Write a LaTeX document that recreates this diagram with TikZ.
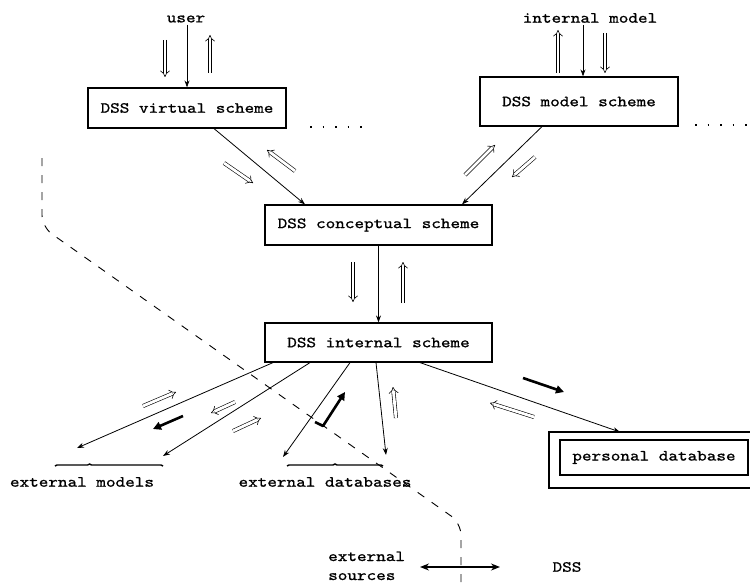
\documentclass[tikz,border=0pt]{standalone}
\usepackage{fontspec}
\usetikzlibrary{arrows.meta,decorations.pathreplacing}
% widened typewriter face used for every label
\newfontfamily\twfont{lmmono10-regular.otf}[FakeStretch=1.18,FakeBold=1]
\newcommand\tw{\twfont\fontsize{15.5}{18}\selectfont}

\begin{document}
\begin{tikzpicture}[x=1pt,y=-1pt,
  box/.style={draw, line width=1.2pt, inner sep=0pt, font=\tw},
  lbl/.style={inner sep=2pt, font=\tw},
  conn/.style={line width=0.8pt, -{Stealth[length=7pt,width=5pt]}},
  flow/.style={double, double distance=2.8pt, line width=0.6pt, -Implies},
  bold/.style={line width=2.6pt, line join=round, -{Triangle[length=8pt,width=8pt]}},
  dots/.style={line width=1.3pt, dash pattern=on 1.5pt off 11pt},
  bound/.style={line width=0.9pt, dash pattern=on 8pt off 9pt, rounded corners=12pt},
  wave/.style={line width=1.4pt, decorate, decoration={brace, amplitude=2pt}}]
\useasboundingbox (0,0) rectangle (750,586);

% scheme boxes
\node[box, minimum width=198pt, minimum height=40pt] (virt) at (187,108) {DSS virtual scheme};
\node[box, minimum width=198pt, minimum height=49pt] (model) at (579,101.5) {DSS model scheme};
\node[box, minimum width=227pt, minimum height=40pt] (concept) at (378.5,225) {DSS conceptual scheme};
\node[box, minimum width=227pt, minimum height=39pt] (internal) at (378.5,342.5) {DSS internal scheme};

% personal database: double frame
\node[box, minimum width=188pt, minimum height=35pt] (pdb) at (654,457.5) {personal database};
\draw[line width=1.2pt] (549,432) rectangle (770,488);
\coordinate (pdbin) at (620,432);

% outer labels
\node[lbl] (user) at (186,19) {user};
\node[lbl] (imodel) at (590,18) {internal model};
\coordinate (mx) at (583,0);

\node[lbl] (extm) at (82,482) {external models};
\node[lbl] (extd) at (325,482) {external databases};
\draw[wave, decoration={aspect=0.32}] (55,466) -- (163,466);
\draw[wave, decoration={aspect=0.5}] (287,466) -- (383,466);
\coordinate (em1) at (77,448);
\coordinate (em2) at (163,456);
\coordinate (ed1) at (283,457);
\coordinate (ed2) at (386,455);

% connectors
\draw[conn] (user.south -| virt.north) -- (virt.north);
\draw[conn] (imodel.south -| mx) -- (model.north -| mx);
\draw[conn] ([xshift=27pt]virt.south) -- ([xshift=-73.5pt]concept.north);
\draw[conn] ([xshift=-37pt]model.south) -- ([xshift=83.5pt]concept.north);
\draw[conn] (concept.south) -- (internal.north);
\draw[conn] ([xshift=-105.5pt]internal.south) -- (em1);
\draw[conn] ([xshift=-68.5pt]internal.south) -- (em2);
\draw[conn] ([xshift=-28.5pt]internal.south) -- (ed1);
\draw[conn] ([xshift=-2.5pt]internal.south) -- (ed2);
\draw[conn] ([xshift=41.5pt]internal.south) -- (pdbin);

% continuation dots
\draw[dots] (310,127) -- (368,127);
\draw[dots] (695,125) -- (750,125);

% flow indicators
\draw[flow] (165,40) -- (165,77);
\draw[flow] (210,73) -- (210,35);
\draw[flow] (558,73) -- (558,30);
\draw[flow] (605,33) -- (605,73);
\draw[flow] (224,163) -- (253,183);
\draw[flow] (295,171) -- (267,150);
\draw[flow] (465,175) -- (495,145);
\draw[flow] (535,157) -- (512,177);
\draw[flow] (353,262) -- (353,302);
\draw[flow] (403,303) -- (403,262);
\draw[flow] (143,406) -- (176,392);
\draw[bold] (183,416) -- (153,429);
\draw[flow] (235,402) -- (211,413);
\draw[flow] (233,431) -- (261,418);
\draw[bold] (315,422) -- (323,426) -- (345,392);
\draw[flow] (396,418) -- (393,387);
\draw[bold] (523,378) -- (564,392);
\draw[flow] (534,417) -- (490,403);

% boundary between external sources and the DSS
\draw[bound] (42,158) -- (42,227) -- (461,523) -- (461,592);

% legend
\node[lbl, anchor=base west] (ext) at (326,561) {external};
\node[lbl, anchor=base west] (src) at (326,580) {sources};
\node[lbl] (dss) at (567,567) {DSS};
\coordinate (la) at (420,567);
\coordinate (lb) at (500,567);
\draw[line width=1.3pt, {Stealth[length=9pt,width=7pt]}-{Stealth[length=9pt,width=7pt]}] (la) -- (lb);
\end{tikzpicture}
\end{document}
